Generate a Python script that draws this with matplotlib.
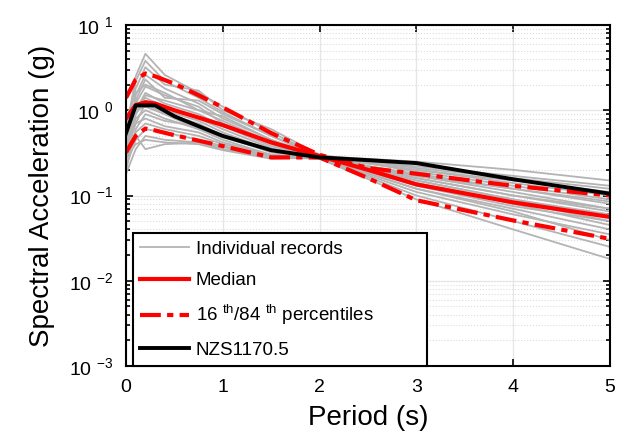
import numpy as np
import matplotlib
matplotlib.use("Agg")
import matplotlib.pyplot as plt
from matplotlib.ticker import FixedLocator, FuncFormatter, LogLocator, NullFormatter

plt.rcParams['font.family'] = ['Liberation Sans', 'DejaVu Sans']
plt.rcParams['mathtext.fontset'] = 'custom'
plt.rcParams['mathtext.rm'] = 'Liberation Sans'
plt.rcParams['mathtext.it'] = 'Liberation Sans'

# periods (s) of the individual records
rec_periods = [0, 0.1, 0.2, 0.4, 0.75, 1.0, 1.5, 2.0, 3.0, 4.0, 5.0]
records = [
    [0.55, 2.5, 4.6, 2.6, 1.6, 1.1, 0.55, 0.29, 0.17, 0.11, 0.07],
    [0.45, 2.2, 3.8, 2.2, 1.4, 0.95, 0.50, 0.28, 0.15, 0.09, 0.06],
    [0.60, 1.8, 3.2, 2.0, 1.7, 1.0, 0.60, 0.30, 0.19, 0.13, 0.09],
    [0.35, 1.5, 2.6, 1.8, 1.2, 0.80, 0.45, 0.29, 0.14, 0.08, 0.045],
    [0.80, 1.6, 2.0, 1.6, 1.0, 0.75, 0.42, 0.28, 0.20, 0.14, 0.10],
    [0.40, 1.2, 1.9, 1.5, 1.1, 0.70, 0.40, 0.27, 0.12, 0.07, 0.04],
    [0.30, 1.0, 1.6, 1.2, 0.9, 0.65, 0.38, 0.28, 0.16, 0.10, 0.065],
    [0.50, 1.1, 1.4, 1.1, 0.8, 0.60, 0.36, 0.27, 0.18, 0.12, 0.08],
    [0.25, 0.9, 1.3, 1.0, 0.75, 0.55, 0.34, 0.28, 0.13, 0.075, 0.05],
    [0.60, 1.0, 1.1, 0.9, 0.7, 0.50, 0.32, 0.28, 0.22, 0.17, 0.13],
    [0.35, 0.8, 1.0, 0.8, 0.6, 0.45, 0.30, 0.27, 0.11, 0.06, 0.035],
    [0.20, 0.6, 0.9, 0.75, 0.65, 0.50, 0.33, 0.29, 0.15, 0.09, 0.055],
    [0.45, 0.7, 0.8, 0.65, 0.55, 0.42, 0.30, 0.28, 0.17, 0.12, 0.085],
    [0.30, 0.55, 0.7, 0.6, 0.5, 0.40, 0.29, 0.27, 0.10, 0.05, 0.025],
    [0.22, 0.45, 0.6, 0.55, 0.45, 0.38, 0.28, 0.28, 0.14, 0.085, 0.05],
    [0.40, 0.5, 0.35, 0.4, 0.42, 0.37, 0.29, 0.29, 0.20, 0.15, 0.11],
    [0.18, 0.35, 0.5, 0.45, 0.42, 0.35, 0.28, 0.27, 0.09, 0.04, 0.018],
    [0.28, 0.4, 0.45, 0.42, 0.4, 0.34, 0.27, 0.28, 0.16, 0.10, 0.07],
    [0.50, 1.3, 2.3, 1.4, 1.3, 0.90, 0.50, 0.30, 0.21, 0.16, 0.12],
    [0.40, 0.9, 1.5, 1.3, 1.0, 0.85, 0.45, 0.28, 0.12, 0.065, 0.03],
    [0.30, 0.7, 1.2, 0.9, 0.6, 0.48, 0.33, 0.29, 0.25, 0.20, 0.15],
]

# statistics
stat_periods = [0, 0.1, 0.2, 0.3, 0.5, 0.75, 1.0, 1.5, 2.0, 2.5, 3.0, 4.0, 5.0]
median = [0.8, 1.15, 1.24, 1.2, 1.0, 0.82, 0.67, 0.42, 0.29, 0.20, 0.135, 0.083, 0.056]
p84 = [1.4, 2.3, 2.7, 2.5, 2.05, 1.5, 1.08, 0.54, 0.30, 0.21, 0.18, 0.13, 0.10]
p16 = [0.32, 0.5, 0.61, 0.58, 0.51, 0.44, 0.38, 0.28, 0.28, 0.16, 0.088, 0.051, 0.031]

# NZS1170.5 design spectrum
nzs_periods = [0, 0.1, 0.3, 0.5, 0.75, 1.0, 1.5, 2.0, 2.5, 3.0, 4.0, 5.0]
nzs = [0.54, 1.14, 1.14, 0.85, 0.65, 0.50, 0.34, 0.28, 0.26, 0.24, 0.155, 0.105]

fig = plt.figure(figsize=(6.19, 4.41), dpi=100)
ax = fig.add_axes([0.2036, 0.170, 0.7819, 0.7733])

for i, r in enumerate(records):
    ax.plot(rec_periods, r, color='#b4b4b4', lw=1.3,
            label='Individual records' if i == 0 else None)
ax.plot(stat_periods, median, color='red', lw=3, label='Median')
ax.plot(stat_periods, p84, color='red', lw=3, ls=(0, (5, 1.5, 1.5, 1.5)),
        label=r'16 $^{th}$/84 $^{th}$ percentiles')
ax.plot(stat_periods, p16, color='red', lw=3, ls=(0, (5, 1.5, 1.5, 1.5)))
ax.plot(nzs_periods, nzs, color='black', lw=2.8, label='NZS1170.5')

ax.set_yscale('log')
ax.set_xlim(0, 5)
ax.set_ylim(1e-3, 1e1)
ax.xaxis.set_major_locator(FixedLocator([0, 1, 2, 3, 4, 5]))
ax.yaxis.set_major_locator(LogLocator(base=10, numticks=10))
ax.yaxis.set_minor_locator(LogLocator(base=10, subs=np.arange(2, 10), numticks=10))
ax.yaxis.set_minor_formatter(NullFormatter())
ax.yaxis.set_major_formatter(FuncFormatter(lambda v, p: r'10 $^{%d}$' % round(np.log10(v))))

ax.grid(True, which='major', color='#e6e6e6', lw=0.9)
ax.grid(True, which='minor', axis='y', color='#dcdcdc', lw=0.8, ls=':')
ax.tick_params(which='both', direction='in', top=True, right=True, labelsize=14, width=1.2)
ax.tick_params(which='major', length=5, pad=9)
ax.tick_params(which='minor', length=3)
for s in ax.spines.values():
    s.set_linewidth(1.5)

ax.set_xlabel('Period (s)', fontsize=20, labelpad=7)
ax.set_ylabel('Spectral Acceleration (g)', fontsize=20, labelpad=10)

# legend stretched to the box width seen in the figure
leg = ax.legend(loc='lower left', bbox_to_anchor=(0.014, 0.0, 0.607, 0.4),
                mode='expand', fontsize=13.5,
                handlelength=2.6, labelspacing=0.75, borderpad=0.4,
                handletextpad=0.35, fancybox=False, framealpha=1,
                edgecolor='black', borderaxespad=0)
leg.get_frame().set_linewidth(1.5)

fig.savefig('out.png', dpi=100)
